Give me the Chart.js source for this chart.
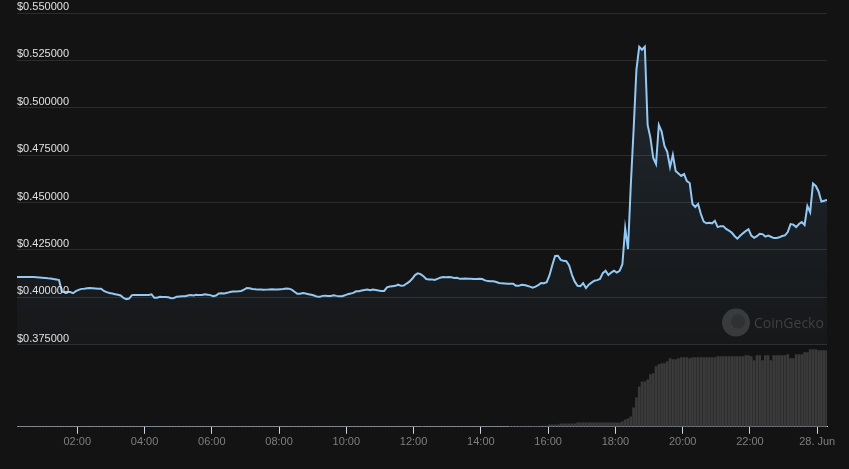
<!DOCTYPE html>
<html>
<head>
<meta charset="utf-8">
<script src="https://cdn.jsdelivr.net/npm/chart.js@4.4.0/dist/chart.umd.min.js"></script>
<style>
  html, body { margin: 0; padding: 0; background: #131313; }
</style>
</head>
<body>
<canvas id="priceChart" width="849" height="469"></canvas>
<script>
// 24h price + volume, 5 minute steps, time in hours since 27 Jun 00:00
const startHour = 12.5 / 60;
const stepHour = 5 / 60;

const prices = [
    0.4106, 0.4106, 0.4106, 0.4107, 0.4106, 0.4106, 0.4106, 0.4105, 0.4104, 0.4103,
    0.4102, 0.4100, 0.4099, 0.4096, 0.4094, 0.4090, 0.4029, 0.4028, 0.4027, 0.4027,
    0.4021, 0.4032, 0.4039, 0.4044, 0.4045, 0.4047, 0.4048, 0.4047, 0.4046, 0.4045,
    0.4045, 0.4033, 0.4027, 0.4022, 0.4019, 0.4016, 0.4013, 0.4009, 0.3996, 0.3990,
    0.3993, 0.4011, 0.4012, 0.4012, 0.4011, 0.4011, 0.4011, 0.4012, 0.4015, 0.3997,
    0.3997, 0.4002, 0.4001, 0.4001, 0.4000, 0.3995, 0.3996, 0.4003, 0.4004, 0.4005,
    0.4005, 0.4009, 0.4012, 0.4009, 0.4013, 0.4011, 0.4012, 0.4015, 0.4013, 0.4011,
    0.4005, 0.4009, 0.4020, 0.4021, 0.4020, 0.4023, 0.4027, 0.4030, 0.4030, 0.4031,
    0.4033, 0.4040, 0.4049, 0.4047, 0.4043, 0.4042, 0.4040, 0.4040, 0.4039, 0.4040,
    0.4041, 0.4042, 0.4041, 0.4041, 0.4042, 0.4043, 0.4046, 0.4045, 0.4040, 0.4029,
    0.4018, 0.4018, 0.4022, 0.4019, 0.4016, 0.4013, 0.4009, 0.4003, 0.4002, 0.4007,
    0.4008, 0.4007, 0.4007, 0.4010, 0.4007, 0.4005, 0.4005, 0.4010, 0.4016, 0.4019,
    0.4023, 0.4031, 0.4032, 0.4035, 0.4038, 0.4041, 0.4037, 0.4041, 0.4038, 0.4035,
    0.4033, 0.4033, 0.4052, 0.4056, 0.4058, 0.4060, 0.4066, 0.4060, 0.4061, 0.4072,
    0.4082, 0.4097, 0.4117, 0.4126, 0.4122, 0.4111, 0.4096, 0.4094, 0.4094, 0.4091,
    0.4097, 0.4103, 0.4106, 0.4105, 0.4106, 0.4105, 0.4101, 0.4102, 0.4097, 0.4097,
    0.4099, 0.4098, 0.4097, 0.4096, 0.4096, 0.4097, 0.4096, 0.4089, 0.4085, 0.4084,
    0.4084, 0.4080, 0.4075, 0.4073, 0.4072, 0.4071, 0.4071, 0.4071, 0.4061, 0.4060,
    0.4066, 0.4064, 0.4060, 0.4056, 0.4050, 0.4056, 0.4064, 0.4075, 0.4074, 0.4079,
    0.4116, 0.4170, 0.4218, 0.4219, 0.4197, 0.4192, 0.4190, 0.4168, 0.4118, 0.4082,
    0.4060, 0.4058, 0.4074, 0.4048, 0.4066, 0.4077, 0.4087, 0.4090, 0.4096, 0.4127,
    0.4140, 0.4117, 0.4130, 0.4140, 0.4130, 0.4139, 0.4174, 0.4365, 0.4254, 0.4592,
    0.4883, 0.5200, 0.5322, 0.5306, 0.5322, 0.4909, 0.4841, 0.4735, 0.4703, 0.4909,
    0.4874, 0.4798, 0.4767, 0.4687, 0.4751, 0.4666, 0.4653, 0.4640, 0.4650, 0.4613,
    0.4603, 0.4492, 0.4476, 0.4492, 0.4439, 0.4399, 0.4390, 0.4393, 0.4390, 0.4403,
    0.4370, 0.4375, 0.4375, 0.4360, 0.4352, 0.4341, 0.4323, 0.4309, 0.4324, 0.4337,
    0.4349, 0.4359, 0.4325, 0.4313, 0.4322, 0.4335, 0.4333, 0.4320, 0.4325, 0.4319,
    0.4312, 0.4313, 0.4316, 0.4323, 0.4326, 0.4344, 0.4386, 0.4383, 0.4370, 0.4386,
    0.4397, 0.4381, 0.4481, 0.4449, 0.4600, 0.4587, 0.4558, 0.4505, 0.4509, 0.4513
];

// rolling volume (arbitrary units, k$)
const volumes = [
    0.2, 0.2, 0.2, 0.2, 0.2, 0.2, 0.2, 0.2, 0.2, 0.2, 0.2, 0.2, 0.2, 0.2, 0.2, 0.2,
    0.2, 0.2, 0.2, 0.2, 0.2, 0.2, 0.2, 0.2, 0.2, 0.2, 0.2, 0.2, 0.2, 0.2, 0.2, 0.2,
    0.2, 0.2, 0.2, 0.2, 0.2, 0.2, 0.2, 0.2, 0.2, 0.2, 0.2, 0.2, 0.2, 0.2, 0.2, 0.2,
    0.2, 0.2, 0.2, 0.2, 0.2, 0.2, 0.2, 0.2, 0.2, 0.2, 0.2, 0.2, 0.2, 0.2, 0.2, 0.2,
    0.2, 0.2, 0.2, 0.2, 0.2, 0.2, 0.2, 0.2, 0.2, 0.2, 0.2, 0.2, 0.2, 0.2, 0.2, 0.2,
    0.2, 0.2, 0.2, 0.2, 0.2, 0.2, 0.2, 0.2, 0.2, 0.2, 0.2, 0.2, 0.2, 0.2, 0.2, 0.2,
    0.2, 0.2, 0.2, 0.2, 0.2, 0.2, 0.2, 0.2, 0.2, 0.2, 0.2, 0.2, 0.2, 0.2, 0.2, 0.2,
    0.2, 0.2, 0.2, 0.2, 0.2, 0.2, 0.2, 0.2, 0.2, 0.2, 0.2, 0.2, 0.2, 0.2, 0.2, 0.2,
    0.2, 0.2, 0.2, 0.2, 0.2, 0.2, 0.2, 0.2, 0.2, 0.2, 0.2, 0.2, 0.2, 0.2, 0.2, 0.2,
    0.2, 0.2, 0.2, 0.2, 0.2, 0.2, 0.2, 0.2, 0.2, 0.2, 0.2, 0.2, 0.2, 0.2, 0.2, 0.2,
    0.2, 0.2, 0.2, 0.2, 0.2, 0.2, 0.2, 0.2, 0.2, 0.2, 0.2, 0.2, 0.2, 0.2, 0.2, 0.2,
    0.5, 0.5, 0.5, 0.5, 0.5, 0.5, 0.5, 0.5, 0.5, 0.5, 0.5,
    0.7, 0.7, 0.7,
    2, 2, 2, 2,
    3, 3, 3, 3, 3, 3,
    4, 4, 4, 4, 4, 4, 4, 4, 4, 4, 4, 4, 4, 4, 4, 4,
    5, 7, 8, 10, 19, 29, 40, 45, 45, 47, 52, 53, 60, 62,
    63, 63, 65, 68, 67, 67, 68, 69, 69, 69,
    68, 69, 69, 69, 69, 69, 69, 69, 69, 69,
    70, 70, 70, 70, 70, 70, 70, 70, 70, 70,
    71, 71, 70, 66, 71, 71, 66, 71, 71, 66,
    71, 71, 71, 71, 71, 72, 68, 68, 72, 72,
    72, 74, 74, 77, 77, 77, 76, 76, 76, 76
];

const priceTicks = [0.375, 0.4, 0.425, 0.45, 0.475, 0.5, 0.525, 0.55];
const hourTicks = [2, 4, 6, 8, 10, 12, 14, 16, 18, 20, 22, 24];
const hourLabels = ['02:00', '04:00', '06:00', '08:00', '10:00', '12:00', '14:00',
    '16:00', '18:00', '20:00', '22:00', '28. Jun'];

// axis ranges so the price pane sits above the volume pane
const priceMin = 0.3316;
const priceMax = 0.55;
const volumeMax = 413;

const points = prices.map((p, i) => ({ x: startHour + i * stepHour, y: p }));
const bars = volumes.map((v, i) => ({ x: startHour + i * stepHour, y: v }));

const watermark = {
    id: 'watermark',
    beforeDatasetsDraw(chart) {
        const { ctx, chartArea } = chart;
        const cx = chartArea.right - 91;
        const cy = chart.scales.y.getPixelForValue(0.375) - 22;
        ctx.save();
        ctx.fillStyle = '#363636';
        ctx.beginPath();
        ctx.arc(cx, cy, 14, 0, Math.PI * 2);
        ctx.fill();
        ctx.fillStyle = '#2c2c2c';
        ctx.beginPath();
        ctx.arc(cx + 2, cy - 1, 7, 0, Math.PI * 2);
        ctx.fill();
        ctx.font = '14px "Open Sans"';
        ctx.fillStyle = '#3c3c3c';
        ctx.textBaseline = 'middle';
        ctx.fillText('CoinGecko', cx + 18, cy + 1);
        ctx.restore();
    }
};

const ctx = document.getElementById('priceChart').getContext('2d');
new Chart(ctx, {
    type: 'line',
    data: {
        datasets: [{
            label: 'Price',
            data: points,
            yAxisID: 'y',
            order: 1,
            borderColor: '#93c9f4',
            borderWidth: 2,
            pointRadius: 0,
            tension: 0,
            fill: { value: 0.375 },
            backgroundColor: c => {
                const chart = c.chart;
                if (!chart.chartArea) return 'rgba(124,181,236,0.06)';
                const g = chart.ctx.createLinearGradient(0, chart.chartArea.top, 0, chart.scales.y.getPixelForValue(0.375));
                g.addColorStop(0, 'rgba(124,181,236,0.14)');
                g.addColorStop(1, 'rgba(124,181,236,0.03)');
                return g;
            }
        }, {
            type: 'bar',
            label: 'Volume',
            data: bars,
            yAxisID: 'yv',
            order: 2,
            backgroundColor: '#3a3a3a',
            barThickness: 2
        }]
    },
    options: {
        responsive: false,
        devicePixelRatio: 1,
        animation: false,
        layout: { padding: { left: 17, right: 22, top: 13, bottom: 18 } },
        plugins: { legend: { display: false }, tooltip: { enabled: false } },
        scales: {
            x: {
                type: 'linear',
                min: startHour,
                max: startHour + stepHour * (prices.length - 1),
                offset: false,
                afterBuildTicks: s => { s.ticks = hourTicks.map(v => ({ value: v })); },
                ticks: {
                    color: '#7f7f7f',
                    font: { family: 'Liberation Sans', size: 11 },
                    padding: 2,
                    maxRotation: 0,
                    autoSkip: false,
                    callback: (v, i) => hourLabels[i]
                },
                grid: { drawOnChartArea: false, color: '#ccd6eb', tickLength: 7, offset: false },
                border: { display: true, color: '#ccd6eb' }
            },
            y: {
                position: 'left',
                min: priceMin,
                max: priceMax,
                afterBuildTicks: s => { s.ticks = priceTicks.map(v => ({ value: v })); },
                ticks: {
                    mirror: true,
                    padding: 0,
                    labelOffset: -6,
                    z: 1,
                    color: '#e0e0e0',
                    font: { family: 'Liberation Sans', size: 11 },
                    callback: v => '$' + v.toFixed(6)
                },
                grid: { color: '#2c2c2c', drawTicks: false },
                border: { display: false }
            },
            yv: { display: false, min: 0, max: volumeMax }
        }
    },
    plugins: [watermark]
});
</script>
</body>
</html>
